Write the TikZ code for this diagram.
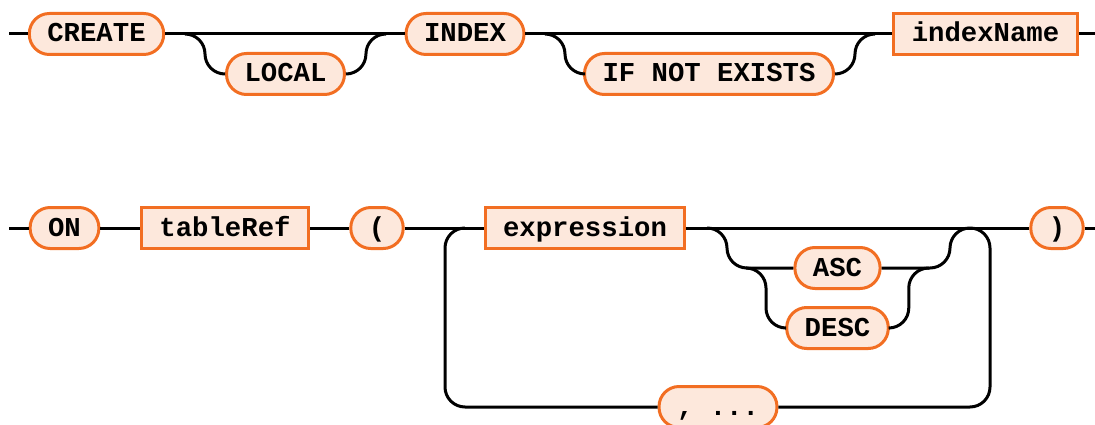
\documentclass[tikz,border=0pt]{standalone}
\usepackage{fontspec}
\usepackage{tikz}
\newfontfamily\railfont{Liberation Mono}
\definecolor{railorange}{HTML}{F26E22}
\definecolor{railfill}{HTML}{FDE8DC}

\tikzset{
  rail/.style={line width=3pt, black, rounded corners=20pt},
  keyword/.style={draw=railorange, fill=railfill, line width=3pt,
    rounded corners=20pt, minimum height=41pt, inner xsep=18pt, inner ysep=0pt,
    text height=17pt, text depth=1pt,
    font=\railfont\bfseries\fontsize{27.3}{30}\selectfont},
  ruleref/.style={keyword, sharp corners}
}

\begin{document}
\begin{tikzpicture}[x=1pt,y=-1pt]
  \useasboundingbox (0,0) rectangle (1095,425);

  % First row: CREATE [LOCAL] INDEX [IF NOT EXISTS] indexName
  \node[keyword] (create) at (96.5,34) {CREATE};
  \node[keyword] (local) at (285.5,74) {LOCAL};
  \node[keyword] (index) at (465,34) {INDEX};
  \node[keyword] (ifne) at (709,74) {IF NOT EXISTS};
  \node[ruleref] (indexname) at (985.5,34) {indexName};

  \coordinate (rowAin) at (9,34);
  \coordinate (rowAout) at (1095,34);
  \coordinate (localsplit) at (185,34);
  \coordinate (localjoin) at (386,34);
  \coordinate (ifnesplit) at (545,34);
  \coordinate (ifnejoin) at (873,34);

  \draw[rail] (rowAin) -- (create.west);
  \draw[rail] (create.east) -- (index.west);
  \draw[rail] (localsplit) -- ++(20,0) |- (local.west);
  \draw[rail] (local.east) -- ++(20,0) |- (localjoin);
  \draw[rail] (index.east) -- (indexname.west);
  \draw[rail] (ifnesplit) -- ++(20,0) |- (ifne.west);
  \draw[rail] (ifne.east) -- ++(20,0) |- (ifnejoin);
  \draw[rail] (indexname.east) -- (rowAout);

  % Second row: ON tableRef ( expression [ASC|DESC] , ... )
  \node[keyword] (on) at (64.5,228) {ON};
  \node[ruleref] (tableref) at (225,228) {tableRef};
  \node[keyword] (lparen) at (377,228) {(};
  \node[ruleref] (expr) at (585,228) {expression};
  \node[keyword] (asc) at (837.5,268) {ASC};
  \node[keyword] (desc) at (837.5,328) {DESC};
  \node[keyword] (comma) at (718,407) {, ...};
  \node[keyword] (rparen) at (1057,228) {)};

  \coordinate (rowBin) at (9,228);
  \coordinate (rowBout) at (1095,228);
  \coordinate (loopsplit) at (465,228);
  \coordinate (loopjoin) at (970,228);
  \coordinate (ordsplit) at (707,228);
  \coordinate (ordjoin) at (970,228);
  \coordinate (descsplit) at (746,268);
  \coordinate (descjoin) at (929,268);

  \draw[rail] (rowBin) -- (on.west);
  \draw[rail] (on.east) -- (tableref.west);
  \draw[rail] (tableref.east) -- (lparen.west);
  \draw[rail] (lparen.east) -- (expr.west);
  \draw[rail] (expr.east) -- (rparen.west);
  \draw[rail] (rparen.east) -- (rowBout);
  % repeat loop
  \draw[rail] (loopsplit) -- ++(-20,0) |- (comma.west);
  \draw[rail] (loopjoin) -- ++(20,0) |- (comma.east);
  % sort order
  \draw[rail] (ordsplit) -- ++(20,0) |- (asc.west);
  \draw[rail] (ordjoin) -- ++(-20,0) |- (asc.east);
  \draw[rail] (descsplit) -- ++(20,0) |- (desc.west);
  \draw[rail] (desc.east) -- ++(19,0) |- (descjoin);
\end{tikzpicture}
\end{document}
